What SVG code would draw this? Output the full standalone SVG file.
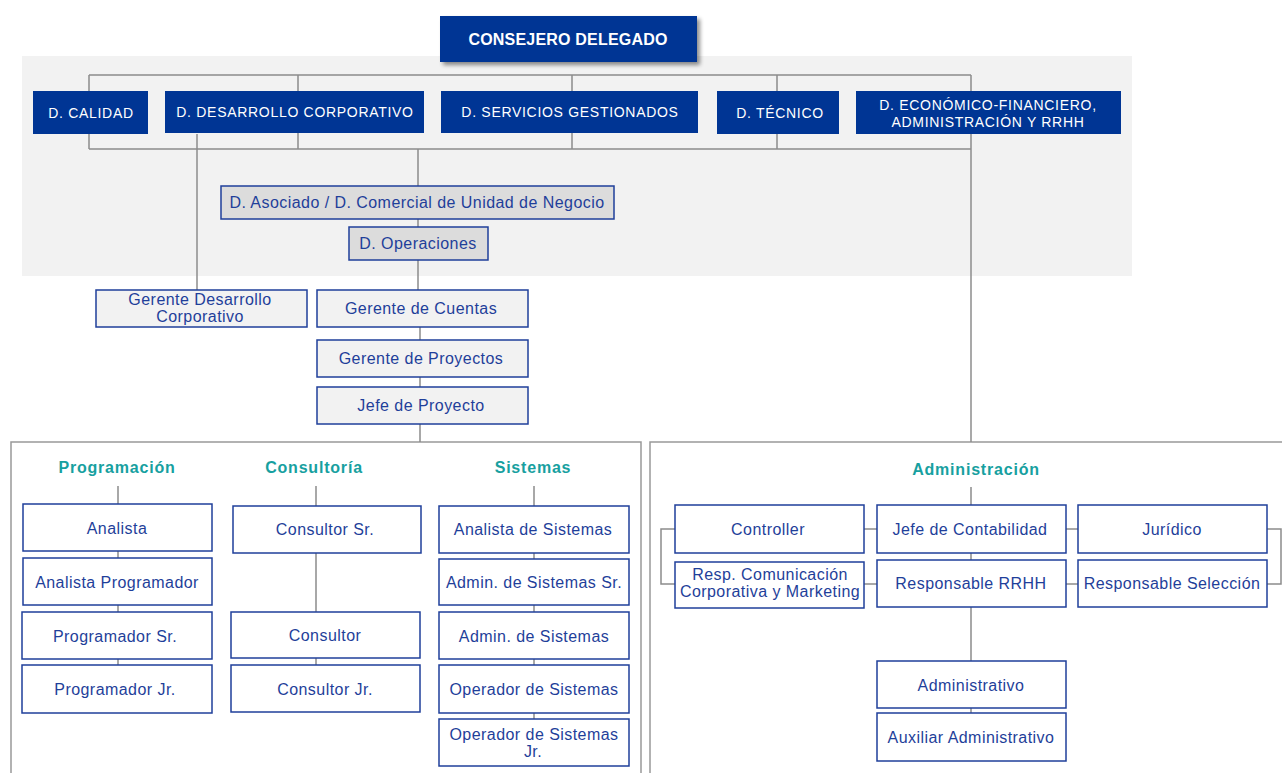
<svg xmlns="http://www.w3.org/2000/svg" width="1282" height="773" viewBox="0 0 1282 773">
<defs>
<filter id="sh" x="-10%" y="-10%" width="130%" height="140%">
<feGaussianBlur in="SourceAlpha" stdDeviation="2"/>
<feOffset dx="3" dy="3"/>
<feComponentTransfer><feFuncA type="linear" slope="0.45"/></feComponentTransfer>
<feMerge><feMergeNode/><feMergeNode in="SourceGraphic"/></feMerge>
</filter>
</defs>
<style>
text{font-family:"Liberation Sans",Arial,sans-serif;text-anchor:middle;}
.dk{fill:#003594;}
.dt{fill:#ffffff;font-size:14px;letter-spacing:0.7px;}
.bx{fill:#ffffff;stroke:#1f3f9a;stroke-width:1.5;}
.gx{fill:#f2f2f2;stroke:#1f3f9a;stroke-width:1.5;}
.gd{fill:#dcdcdc;stroke:#1f3f9a;stroke-width:1.5;}
.t{fill:#1f3f9a;font-size:16px;letter-spacing:0.45px;}
.h{fill:#17a0a0;font-size:16px;font-weight:bold;letter-spacing:0.8px;}
.ln{stroke:#8c8c8c;stroke-width:1.5;fill:none;}
.fr{stroke:#999999;stroke-width:1.5;fill:none;}
</style>
<rect x="22" y="56" width="1110" height="220" fill="#f2f2f2"/>
<g id="frames">
<rect class="fr" x="11" y="442" width="630" height="340"/>
<rect class="fr" x="650" y="442" width="640" height="340"/>
</g>
<g id="connectors">
<path class="ln" d="M89,75 H971 M89,75 V149 M298,75 V149 M572,75 V149 M777,75 V149 M971,75 V149 M89,149 H971"/>
<path class="ln" d="M418,149 V186 M418,219 V227 M418,260 V290 M420,327 V340 M420,377 V387 M420,424 V442"/>
<path class="ln" d="M197,134 V290"/>
<path class="ln" d="M971,149 V442"/>
<path class="ln" d="M118,486 V504 M118,551 V558 M118,605 V612 M118,659 V665"/>
<path class="ln" d="M316,486 V506 M316,553 V612 M316,658 V665"/>
<path class="ln" d="M534,486 V506 M534,553 V559 M534,605 V612 M534,659 V665 M534,713 V719"/>
<path class="ln" d="M971,487 V505 M971,553 V560 M971,607 V661 M971,708 V713"/>
<path class="ln" d="M864,529 H877 M1066,529 H1078 M864,584 H877 M1066,584 H1078"/>
<path class="ln" d="M675,529 H661 V584 H675 M1267,529 H1281 V584 H1267"/>
</g>
<g id="consejero">
<rect x="440" y="16" width="257" height="46" class="dk" filter="url(#sh)"/>
<text x="568" y="45" fill="#ffffff" font-size="16" font-weight="bold" letter-spacing="0.2" style="text-anchor:middle">CONSEJERO DELEGADO</text>
</g>
<g id="d-calidad"><rect class="dk" x="33" y="91" width="115" height="43"/><text class="dt" x="91" y="118">D. CALIDAD</text></g>
<g id="d-desarrollo"><rect class="dk" x="165" y="91" width="259" height="42"/><text class="dt" x="295" y="117">D. DESARROLLO CORPORATIVO</text></g>
<g id="d-servicios"><rect class="dk" x="441" y="91" width="257" height="42"/><text class="dt" x="570" y="117">D. SERVICIOS GESTIONADOS</text></g>
<g id="d-tecnico"><rect class="dk" x="717" y="91" width="122" height="43"/><text class="dt" x="780" y="118">D. TÉCNICO</text></g>
<g id="d-economico"><rect class="dk" x="856" y="91" width="265" height="43"/><text class="dt" x="988" y="110">D. ECONÓMICO-FINANCIERO,</text><text class="dt" x="988" y="127">ADMINISTRACIÓN Y RRHH</text></g>
<g id="d-asociado"><rect class="gd" x="221" y="186" width="393" height="33"/><text class="t" x="417" y="208">D. Asociado / D. Comercial de Unidad de Negocio</text></g>
<g id="d-operaciones"><rect class="gd" x="349" y="227" width="139" height="33"/><text class="t" x="418" y="249">D. Operaciones</text></g>
<g id="gerente-desarrollo"><rect class="gx" x="96" y="290" width="211" height="37"/><text class="t" x="200" y="305">Gerente Desarrollo</text><text class="t" x="200" y="322">Corporativo</text></g>
<g id="gerente-cuentas"><rect class="gx" x="317" y="290" width="211" height="37"/><text class="t" x="421" y="314">Gerente de Cuentas</text></g>
<g id="gerente-proyectos"><rect class="gx" x="317" y="340" width="211" height="37"/><text class="t" x="421" y="364">Gerente de Proyectos</text></g>
<g id="jefe-proyecto"><rect class="gx" x="317" y="387" width="211" height="37"/><text class="t" x="421" y="411">Jefe de Proyecto</text></g>
<g id="programacion"><text class="h" x="117" y="473">Programación</text></g>
<g id="consultoria"><text class="h" x="314" y="473">Consultoría</text></g>
<g id="sistemas"><text class="h" x="533" y="473">Sistemas</text></g>
<g id="administracion"><text class="h" x="976" y="475">Administración</text></g>
<g id="analista"><rect class="bx" x="23" y="504" width="189" height="47"/><text class="t" x="117" y="534">Analista</text></g>
<g id="analista-programador"><rect class="bx" x="23" y="558" width="189" height="47"/><text class="t" x="117" y="588">Analista Programador</text></g>
<g id="programador-sr"><rect class="bx" x="22" y="612" width="190" height="47"/><text class="t" x="115" y="642">Programador Sr.</text></g>
<g id="programador-jr"><rect class="bx" x="22" y="665" width="190" height="48"/><text class="t" x="115" y="695">Programador Jr.</text></g>
<g id="consultor-sr"><rect class="bx" x="233" y="506" width="188" height="47"/><text class="t" x="325" y="535">Consultor Sr.</text></g>
<g id="consultor"><rect class="bx" x="231" y="612" width="189" height="46"/><text class="t" x="325" y="641">Consultor</text></g>
<g id="consultor-jr"><rect class="bx" x="231" y="665" width="189" height="47"/><text class="t" x="325" y="695">Consultor Jr.</text></g>
<g id="analista-sistemas"><rect class="bx" x="439" y="506" width="190" height="47"/><text class="t" x="533" y="535">Analista de Sistemas</text></g>
<g id="admin-sistemas-sr"><rect class="bx" x="439" y="559" width="190" height="46"/><text class="t" x="534" y="588">Admin. de Sistemas Sr.</text></g>
<g id="admin-sistemas"><rect class="bx" x="439" y="612" width="190" height="47"/><text class="t" x="534" y="642">Admin. de Sistemas</text></g>
<g id="operador-sistemas"><rect class="bx" x="439" y="665" width="190" height="48"/><text class="t" x="534" y="695">Operador de Sistemas</text></g>
<g id="operador-sistemas-jr"><rect class="bx" x="439" y="719" width="190" height="47"/><text class="t" x="534" y="740">Operador de Sistemas</text><text class="t" x="533" y="757">Jr.</text></g>
<g id="controller"><rect class="bx" x="675" y="505" width="189" height="48"/><text class="t" x="768" y="535">Controller</text></g>
<g id="jefe-contabilidad"><rect class="bx" x="877" y="505" width="189" height="48"/><text class="t" x="970" y="535">Jefe de Contabilidad</text></g>
<g id="juridico"><rect class="bx" x="1078" y="505" width="189" height="48"/><text class="t" x="1172" y="535">Jurídico</text></g>
<g id="resp-comunicacion"><rect class="bx" x="675" y="562" width="189" height="46"/><text class="t" x="770" y="580">Resp. Comunicación</text><text class="t" x="770" y="597">Corporativa y Marketing</text></g>
<g id="responsable-rrhh"><rect class="bx" x="877" y="560" width="189" height="47"/><text class="t" x="971" y="589">Responsable RRHH</text></g>
<g id="responsable-seleccion"><rect class="bx" x="1078" y="560" width="189" height="47"/><text class="t" x="1172" y="589">Responsable Selección</text></g>
<g id="administrativo"><rect class="bx" x="877" y="661" width="189" height="47"/><text class="t" x="971" y="691">Administrativo</text></g>
<g id="auxiliar-administrativo"><rect class="bx" x="877" y="713" width="189" height="48"/><text class="t" x="971" y="743">Auxiliar Administrativo</text></g>
</svg>
